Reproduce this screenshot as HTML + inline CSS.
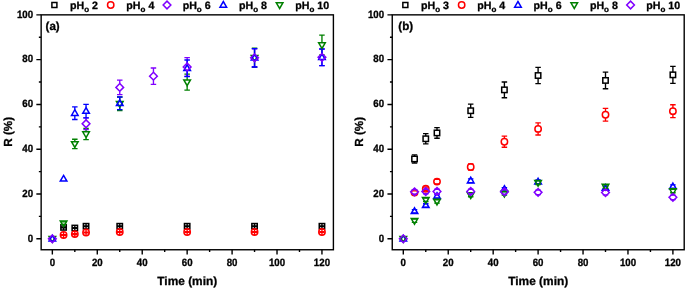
<!DOCTYPE html>
<html><head><meta charset="utf-8"><title>chart</title>
<style>html,body{margin:0;padding:0;background:#fff;}svg{will-change:transform;position:absolute;left:0;top:0;display:block;font-family:"Liberation Sans", sans-serif;}</style>
</head><body>
<svg width="685" height="289" viewBox="0 0 685 289" font-family='"Liberation Sans", sans-serif' fill="#000" text-rendering="geometricPrecision"><style>text{stroke:#000;stroke-width:0.3px;stroke-linejoin:round}</style>
<rect width="685" height="289" fill="#fff"/>
<rect x="41.15" y="14.85" width="292.25" height="234.90" fill="none" stroke="#000" stroke-width="1.4"/>
<path d="M41.15 238.80h-4.8M41.15 216.41h-2.3M41.15 194.01h-4.8M41.15 171.62h-2.3M41.15 149.22h-4.8M41.15 126.83h-2.3M41.15 104.43h-4.8M41.15 82.03h-2.3M41.15 59.64h-4.8M41.15 37.25h-2.3M41.15 14.85h-4.8M52.35 249.75v4.8M74.82 249.75v2.3M97.28 249.75v4.8M119.75 249.75v2.3M142.22 249.75v4.8M164.69 249.75v2.3M187.15 249.75v4.8M209.62 249.75v2.3M232.09 249.75v4.8M254.55 249.75v2.3M277.02 249.75v4.8M299.49 249.75v2.3M321.95 249.75v4.8" stroke="#000" stroke-width="1.4" fill="none"/>
<g font-size="9.7px" font-weight="bold" text-anchor="end">
<text transform="translate(33.05 241.50) scale(1 1.09)">0</text>
<text transform="translate(33.05 196.71) scale(1 1.09)">20</text>
<text transform="translate(33.05 151.92) scale(1 1.09)">40</text>
<text transform="translate(33.05 107.13) scale(1 1.09)">60</text>
<text transform="translate(33.05 62.34) scale(1 1.09)">80</text>
<text transform="translate(33.05 17.55) scale(1 1.09)">100</text>
</g>
<g font-size="9.7px" font-weight="bold" text-anchor="middle">
<text transform="translate(52.35 265.6) scale(1 1.09)">0</text>
<text transform="translate(97.28 265.6) scale(1 1.09)">20</text>
<text transform="translate(142.22 265.6) scale(1 1.09)">40</text>
<text transform="translate(187.15 265.6) scale(1 1.09)">60</text>
<text transform="translate(232.09 265.6) scale(1 1.09)">80</text>
<text transform="translate(277.02 265.6) scale(1 1.09)">100</text>
<text transform="translate(321.95 265.6) scale(1 1.09)">120</text>
</g>
<text x="187.27" y="285.3" font-size="11.9px" font-weight="bold" text-anchor="middle">Time (min)</text>
<text transform="translate(12.05 131.80) rotate(-90)" font-size="11.7px" font-weight="bold" text-anchor="middle">R (%)</text>
<text x="45.55" y="30.2" font-size="11.6px" font-weight="bold">(a)</text>
<rect x="51.90" y="2.50" width="5.00" height="5.00" fill="#fff" stroke="#000" stroke-width="1.5"/>
<text x="70.05" y="8.65" font-size="10.65px" font-weight="bold">pH<tspan font-size="8px" dy="2.85">o</tspan><tspan dy="-2.85"> 2</tspan></text>
<circle cx="110.70" cy="5.00" r="3.2" fill="#fff" stroke="#ff0000" stroke-width="1.5"/>
<text x="126.35" y="8.65" font-size="10.65px" font-weight="bold">pH<tspan font-size="8px" dy="2.85">o</tspan><tspan dy="-2.85"> 4</tspan></text>
<path d="M167.00 1.15L170.85 5.00L167.00 8.85L163.15 5.00Z" fill="#fff" stroke="#8000ff" stroke-width="1.5"/>
<text x="182.65" y="8.65" font-size="10.65px" font-weight="bold">pH<tspan font-size="8px" dy="2.85">o</tspan><tspan dy="-2.85"> 6</tspan></text>
<path d="M223.30 1.50L226.60 7.20L220.00 7.20Z" fill="#fff" stroke="#0000ff" stroke-width="1.5"/>
<text x="238.95" y="8.65" font-size="10.65px" font-weight="bold">pH<tspan font-size="8px" dy="2.85">o</tspan><tspan dy="-2.85"> 8</tspan></text>
<path d="M279.60 8.50L282.90 2.80L276.30 2.80Z" fill="#fff" stroke="#008000" stroke-width="1.5"/>
<text x="295.25" y="8.65" font-size="10.65px" font-weight="bold">pH<tspan font-size="8px" dy="2.85">o</tspan><tspan dy="-2.85"> 10</tspan></text>
<path d="M63.58 224.66V230.06M60.83 227.00H66.33M60.83 227.72H66.33" fill="none" stroke="#000" stroke-width="1.35"/>
<path d="M74.82 225.33V230.73M72.07 227.67H77.57M72.07 228.39H77.57" fill="none" stroke="#000" stroke-width="1.35"/>
<path d="M86.05 223.54V228.94M83.30 225.88H88.80M83.30 226.60H88.80" fill="none" stroke="#000" stroke-width="1.35"/>
<path d="M119.75 223.54V228.94M117.00 225.88H122.50M117.00 226.60H122.50" fill="none" stroke="#000" stroke-width="1.35"/>
<path d="M187.15 223.54V228.94M184.40 225.88H189.90M184.40 226.60H189.90" fill="none" stroke="#000" stroke-width="1.35"/>
<path d="M254.55 223.54V228.94M251.80 225.88H257.30M251.80 226.60H257.30" fill="none" stroke="#000" stroke-width="1.35"/>
<path d="M321.95 223.54V228.94M319.20 225.88H324.70M319.20 226.60H324.70" fill="none" stroke="#000" stroke-width="1.35"/>
<rect x="60.88" y="224.66" width="5.40" height="5.40" fill="none" stroke="#000" stroke-width="1.5"/>
<rect x="72.12" y="225.33" width="5.40" height="5.40" fill="none" stroke="#000" stroke-width="1.5"/>
<rect x="83.35" y="223.54" width="5.40" height="5.40" fill="none" stroke="#000" stroke-width="1.5"/>
<rect x="117.05" y="223.54" width="5.40" height="5.40" fill="none" stroke="#000" stroke-width="1.5"/>
<rect x="184.45" y="223.54" width="5.40" height="5.40" fill="none" stroke="#000" stroke-width="1.5"/>
<rect x="251.85" y="223.54" width="5.40" height="5.40" fill="none" stroke="#000" stroke-width="1.5"/>
<rect x="319.25" y="223.54" width="5.40" height="5.40" fill="none" stroke="#000" stroke-width="1.5"/>
<path d="M63.58 231.79V238.19M60.83 234.63H66.33M60.83 235.35H66.33" fill="none" stroke="#ff0000" stroke-width="1.35"/>
<path d="M74.82 230.89V237.29M72.07 233.73H77.57M72.07 234.45H77.57" fill="none" stroke="#ff0000" stroke-width="1.35"/>
<path d="M86.05 229.32V235.72M83.30 232.16H88.80M83.30 232.88H88.80" fill="none" stroke="#ff0000" stroke-width="1.35"/>
<path d="M119.75 228.87V235.27M117.00 231.71H122.50M117.00 232.43H122.50" fill="none" stroke="#ff0000" stroke-width="1.35"/>
<path d="M187.15 228.87V235.27M184.40 231.71H189.90M184.40 232.43H189.90" fill="none" stroke="#ff0000" stroke-width="1.35"/>
<path d="M254.55 228.87V235.27M251.80 231.71H257.30M251.80 232.43H257.30" fill="none" stroke="#ff0000" stroke-width="1.35"/>
<path d="M321.95 228.87V235.27M319.20 231.71H324.70M319.20 232.43H324.70" fill="none" stroke="#ff0000" stroke-width="1.35"/>
<circle cx="63.58" cy="234.99" r="3.2" fill="none" stroke="#ff0000" stroke-width="1.5"/>
<circle cx="74.82" cy="234.09" r="3.2" fill="none" stroke="#ff0000" stroke-width="1.5"/>
<circle cx="86.05" cy="232.52" r="3.2" fill="none" stroke="#ff0000" stroke-width="1.5"/>
<circle cx="119.75" cy="232.07" r="3.2" fill="none" stroke="#ff0000" stroke-width="1.5"/>
<circle cx="187.15" cy="232.07" r="3.2" fill="none" stroke="#ff0000" stroke-width="1.5"/>
<circle cx="254.55" cy="232.07" r="3.2" fill="none" stroke="#ff0000" stroke-width="1.5"/>
<circle cx="321.95" cy="232.07" r="3.2" fill="none" stroke="#ff0000" stroke-width="1.5"/>
<path d="M60.83 221.80H66.33M60.83 224.40H66.33" fill="none" stroke="#008000" stroke-width="1.35"/>
<path d="M74.82 139.21V141.72M74.82 147.42V148.63M72.07 139.21H77.57M72.07 148.63H77.57" fill="none" stroke="#008000" stroke-width="1.35"/>
<path d="M86.05 128.44V131.85M86.05 137.55V139.66M83.30 128.44H88.80M83.30 139.66H88.80" fill="none" stroke="#008000" stroke-width="1.35"/>
<path d="M119.75 97.04V101.57M119.75 107.27V110.50M117.00 97.04H122.50M117.00 110.50H122.50" fill="none" stroke="#008000" stroke-width="1.35"/>
<path d="M187.15 74.16V79.93M187.15 85.63V90.09M184.40 74.16H189.90M184.40 90.09H189.90" fill="none" stroke="#008000" stroke-width="1.35"/>
<path d="M254.55 48.15V55.59M254.55 61.29V67.43M251.80 48.15H257.30M251.80 67.43H257.30" fill="none" stroke="#008000" stroke-width="1.35"/>
<path d="M321.95 35.14V42.80M321.95 48.50V54.87M319.20 35.14H324.70M319.20 54.87H324.70" fill="none" stroke="#008000" stroke-width="1.35"/>
<path d="M86.05 117.90V119.88M86.05 127.58V129.57M83.30 117.90H88.80M83.30 129.57H88.80" fill="none" stroke="#8000ff" stroke-width="1.35"/>
<path d="M119.75 80.11V83.55M119.75 91.25V94.69M117.00 80.11H122.50M117.00 94.69H122.50" fill="none" stroke="#8000ff" stroke-width="1.35"/>
<path d="M153.45 68.00V72.33M153.45 80.03V84.37M150.70 68.00H156.20M150.70 84.37H156.20" fill="none" stroke="#8000ff" stroke-width="1.35"/>
<path d="M187.15 57.68V63.14M187.15 70.84V76.29M184.40 57.68H189.90M184.40 76.29H189.90" fill="none" stroke="#8000ff" stroke-width="1.35"/>
<path d="M254.55 48.82V53.94M254.55 61.64V66.76M251.80 48.82H257.30M251.80 66.76H257.30" fill="none" stroke="#8000ff" stroke-width="1.35"/>
<path d="M321.95 49.04V53.49M321.95 61.19V65.64M319.20 49.04H324.70M319.20 65.64H324.70" fill="none" stroke="#8000ff" stroke-width="1.35"/>
<path d="M74.82 106.91V109.69M74.82 115.39V119.47M72.07 106.91H77.57M72.07 119.47H77.57" fill="none" stroke="#0000ff" stroke-width="1.35"/>
<path d="M86.05 104.44V107.67M86.05 113.37V117.90M83.30 104.44H88.80M83.30 117.90H88.80" fill="none" stroke="#0000ff" stroke-width="1.35"/>
<path d="M119.75 97.04V99.82M119.75 105.52V109.60M117.00 97.04H122.50M117.00 109.60H122.50" fill="none" stroke="#0000ff" stroke-width="1.35"/>
<path d="M187.15 60.03V64.83M187.15 70.53V76.63M184.40 60.03H189.90M184.40 76.63H189.90" fill="none" stroke="#0000ff" stroke-width="1.35"/>
<path d="M254.55 48.59V54.29M254.55 59.99V66.99M251.80 48.59H257.30M251.80 66.99H257.30" fill="none" stroke="#0000ff" stroke-width="1.35"/>
<path d="M321.95 49.04V53.84M321.95 59.54V65.64M319.20 49.04H324.70M319.20 65.64H324.70" fill="none" stroke="#0000ff" stroke-width="1.35"/>
<path d="M52.35 242.30L55.65 236.60L49.05 236.60Z" fill="none" stroke="#008000" stroke-width="1.5"/>
<path d="M63.58 226.60L66.88 220.90L60.28 220.90Z" fill="none" stroke="#008000" stroke-width="1.5"/>
<path d="M74.82 147.42L78.12 141.72L71.52 141.72Z" fill="none" stroke="#008000" stroke-width="1.5"/>
<path d="M86.05 137.55L89.35 131.85L82.75 131.85Z" fill="none" stroke="#008000" stroke-width="1.5"/>
<path d="M119.75 107.27L123.05 101.57L116.45 101.57Z" fill="none" stroke="#008000" stroke-width="1.5"/>
<path d="M187.15 85.63L190.45 79.93L183.85 79.93Z" fill="none" stroke="#008000" stroke-width="1.5"/>
<path d="M254.55 61.29L257.85 55.59L251.25 55.59Z" fill="none" stroke="#008000" stroke-width="1.5"/>
<path d="M321.95 48.50L325.25 42.80L318.65 42.80Z" fill="none" stroke="#008000" stroke-width="1.5"/>
<path d="M52.35 235.30L55.65 241.00L49.05 241.00Z" fill="none" stroke="#0000ff" stroke-width="1.5"/>
<path d="M63.58 175.41L66.88 181.11L60.28 181.11Z" fill="none" stroke="#0000ff" stroke-width="1.5"/>
<path d="M74.82 109.69L78.12 115.39L71.52 115.39Z" fill="none" stroke="#0000ff" stroke-width="1.5"/>
<path d="M86.05 107.67L89.35 113.37L82.75 113.37Z" fill="none" stroke="#0000ff" stroke-width="1.5"/>
<path d="M119.75 99.82L123.05 105.52L116.45 105.52Z" fill="none" stroke="#0000ff" stroke-width="1.5"/>
<path d="M187.15 64.83L190.45 70.53L183.85 70.53Z" fill="none" stroke="#0000ff" stroke-width="1.5"/>
<path d="M254.55 54.29L257.85 59.99L251.25 59.99Z" fill="none" stroke="#0000ff" stroke-width="1.5"/>
<path d="M321.95 53.84L325.25 59.54L318.65 59.54Z" fill="none" stroke="#0000ff" stroke-width="1.5"/>
<path d="M52.35 234.95L56.20 238.80L52.35 242.65L48.50 238.80Z" fill="none" stroke="#8000ff" stroke-width="1.5"/>
<path d="M86.05 119.88L89.90 123.73L86.05 127.58L82.20 123.73Z" fill="none" stroke="#8000ff" stroke-width="1.5"/>
<path d="M119.75 83.55L123.60 87.40L119.75 91.25L115.90 87.40Z" fill="none" stroke="#8000ff" stroke-width="1.5"/>
<path d="M153.45 72.33L157.30 76.18L153.45 80.03L149.60 76.18Z" fill="none" stroke="#8000ff" stroke-width="1.5"/>
<path d="M187.15 63.14L191.00 66.99L187.15 70.84L183.30 66.99Z" fill="none" stroke="#8000ff" stroke-width="1.5"/>
<path d="M254.55 53.94L258.40 57.79L254.55 61.64L250.70 57.79Z" fill="none" stroke="#8000ff" stroke-width="1.5"/>
<path d="M321.95 53.49L325.80 57.34L321.95 61.19L318.10 57.34Z" fill="none" stroke="#8000ff" stroke-width="1.5"/>
<rect x="392.25" y="14.85" width="291.95" height="234.90" fill="none" stroke="#000" stroke-width="1.4"/>
<path d="M392.25 238.80h-4.8M392.25 216.41h-2.3M392.25 194.01h-4.8M392.25 171.62h-2.3M392.25 149.22h-4.8M392.25 126.83h-2.3M392.25 104.43h-4.8M392.25 82.03h-2.3M392.25 59.64h-4.8M392.25 37.25h-2.3M392.25 14.85h-4.8M403.30 249.75v4.8M425.77 249.75v2.3M448.23 249.75v4.8M470.70 249.75v2.3M493.17 249.75v4.8M515.63 249.75v2.3M538.10 249.75v4.8M560.57 249.75v2.3M583.04 249.75v4.8M605.50 249.75v2.3M627.97 249.75v4.8M650.44 249.75v2.3M672.90 249.75v4.8" stroke="#000" stroke-width="1.4" fill="none"/>
<g font-size="9.7px" font-weight="bold" text-anchor="end">
<text transform="translate(384.15 241.50) scale(1 1.09)">0</text>
<text transform="translate(384.15 196.71) scale(1 1.09)">20</text>
<text transform="translate(384.15 151.92) scale(1 1.09)">40</text>
<text transform="translate(384.15 107.13) scale(1 1.09)">60</text>
<text transform="translate(384.15 62.34) scale(1 1.09)">80</text>
<text transform="translate(384.15 17.55) scale(1 1.09)">100</text>
</g>
<g font-size="9.7px" font-weight="bold" text-anchor="middle">
<text transform="translate(403.30 265.6) scale(1 1.09)">0</text>
<text transform="translate(448.23 265.6) scale(1 1.09)">20</text>
<text transform="translate(493.17 265.6) scale(1 1.09)">40</text>
<text transform="translate(538.10 265.6) scale(1 1.09)">60</text>
<text transform="translate(583.04 265.6) scale(1 1.09)">80</text>
<text transform="translate(627.97 265.6) scale(1 1.09)">100</text>
<text transform="translate(672.90 265.6) scale(1 1.09)">120</text>
</g>
<text x="538.23" y="285.3" font-size="11.9px" font-weight="bold" text-anchor="middle">Time (min)</text>
<text transform="translate(363.15 131.80) rotate(-90)" font-size="11.7px" font-weight="bold" text-anchor="middle">R (%)</text>
<text x="398.35" y="30.2" font-size="11.6px" font-weight="bold">(b)</text>
<rect x="402.85" y="2.50" width="5.00" height="5.00" fill="#fff" stroke="#000" stroke-width="1.5"/>
<text x="421.00" y="8.65" font-size="10.65px" font-weight="bold">pH<tspan font-size="8px" dy="2.85">o</tspan><tspan dy="-2.85"> 3</tspan></text>
<circle cx="461.65" cy="5.00" r="3.2" fill="#fff" stroke="#ff0000" stroke-width="1.5"/>
<text x="477.30" y="8.65" font-size="10.65px" font-weight="bold">pH<tspan font-size="8px" dy="2.85">o</tspan><tspan dy="-2.85"> 4</tspan></text>
<path d="M517.95 1.50L521.25 7.20L514.65 7.20Z" fill="#fff" stroke="#0000ff" stroke-width="1.5"/>
<text x="533.60" y="8.65" font-size="10.65px" font-weight="bold">pH<tspan font-size="8px" dy="2.85">o</tspan><tspan dy="-2.85"> 6</tspan></text>
<path d="M574.25 8.50L577.55 2.80L570.95 2.80Z" fill="#fff" stroke="#008000" stroke-width="1.5"/>
<text x="589.90" y="8.65" font-size="10.65px" font-weight="bold">pH<tspan font-size="8px" dy="2.85">o</tspan><tspan dy="-2.85"> 8</tspan></text>
<path d="M630.55 1.15L634.40 5.00L630.55 8.85L626.70 5.00Z" fill="#fff" stroke="#8000ff" stroke-width="1.5"/>
<text x="646.20" y="8.65" font-size="10.65px" font-weight="bold">pH<tspan font-size="8px" dy="2.85">o</tspan><tspan dy="-2.85"> 10</tspan></text>
<path d="M414.53 154.91V156.25M414.53 161.65V162.99M411.78 154.91H417.28M411.78 162.99H417.28" fill="none" stroke="#000" stroke-width="1.35"/>
<path d="M425.77 133.60V136.06M425.77 141.46V143.92M423.02 133.60H428.52M423.02 143.92H428.52" fill="none" stroke="#000" stroke-width="1.35"/>
<path d="M437.00 127.66V130.23M437.00 135.63V138.20M434.25 127.66H439.75M434.25 138.20H439.75" fill="none" stroke="#000" stroke-width="1.35"/>
<path d="M470.70 104.11V108.02M470.70 113.42V117.34M467.95 104.11H473.45M467.95 117.34H473.45" fill="none" stroke="#000" stroke-width="1.35"/>
<path d="M504.40 82.01V87.16M504.40 92.56V97.72M501.65 82.01H507.15M501.65 97.72H507.15" fill="none" stroke="#000" stroke-width="1.35"/>
<path d="M538.10 67.43V72.81M538.10 78.21V83.58M535.35 67.43H540.85M535.35 83.58H540.85" fill="none" stroke="#000" stroke-width="1.35"/>
<path d="M605.50 72.15V77.74M605.50 83.14V88.74M602.75 72.15H608.25M602.75 88.74H608.25" fill="none" stroke="#000" stroke-width="1.35"/>
<path d="M672.90 66.31V72.14M672.90 77.54V83.36M670.15 66.31H675.65M670.15 83.36H675.65" fill="none" stroke="#000" stroke-width="1.35"/>
<rect x="411.83" y="156.25" width="5.40" height="5.40" fill="none" stroke="#000" stroke-width="1.5"/>
<rect x="423.07" y="136.06" width="5.40" height="5.40" fill="none" stroke="#000" stroke-width="1.5"/>
<rect x="434.30" y="130.23" width="5.40" height="5.40" fill="none" stroke="#000" stroke-width="1.5"/>
<rect x="468.00" y="108.02" width="5.40" height="5.40" fill="none" stroke="#000" stroke-width="1.5"/>
<rect x="501.70" y="87.16" width="5.40" height="5.40" fill="none" stroke="#000" stroke-width="1.5"/>
<rect x="535.40" y="72.81" width="5.40" height="5.40" fill="none" stroke="#000" stroke-width="1.5"/>
<rect x="602.80" y="77.74" width="5.40" height="5.40" fill="none" stroke="#000" stroke-width="1.5"/>
<rect x="670.20" y="72.14" width="5.40" height="5.40" fill="none" stroke="#000" stroke-width="1.5"/>
<path d="M411.78 190.80H417.28M411.78 194.39H417.28" fill="none" stroke="#ff0000" stroke-width="1.35"/>
<path d="M423.02 186.99H428.52M423.02 190.58H428.52" fill="none" stroke="#ff0000" stroke-width="1.35"/>
<path d="M434.25 179.36H439.75M434.25 183.85H439.75" fill="none" stroke="#ff0000" stroke-width="1.35"/>
<path d="M467.95 163.88H473.45M467.95 170.16H473.45" fill="none" stroke="#ff0000" stroke-width="1.35"/>
<path d="M504.40 136.07V138.48M504.40 144.88V147.29M501.65 136.07H507.15M501.65 147.29H507.15" fill="none" stroke="#ff0000" stroke-width="1.35"/>
<path d="M538.10 122.84V125.69M538.10 132.09V134.95M535.35 122.84H540.85M535.35 134.95H540.85" fill="none" stroke="#ff0000" stroke-width="1.35"/>
<path d="M605.50 108.37V111.56M605.50 117.96V121.15M602.75 108.37H608.25M602.75 121.15H608.25" fill="none" stroke="#ff0000" stroke-width="1.35"/>
<path d="M672.90 104.78V107.97M672.90 114.37V117.57M670.15 104.78H675.65M670.15 117.57H675.65" fill="none" stroke="#ff0000" stroke-width="1.35"/>
<circle cx="414.53" cy="192.59" r="3.2" fill="none" stroke="#ff0000" stroke-width="1.5"/>
<circle cx="425.77" cy="188.78" r="3.2" fill="none" stroke="#ff0000" stroke-width="1.5"/>
<circle cx="437.00" cy="181.60" r="3.2" fill="none" stroke="#ff0000" stroke-width="1.5"/>
<circle cx="470.70" cy="167.02" r="3.2" fill="none" stroke="#ff0000" stroke-width="1.5"/>
<circle cx="504.40" cy="141.68" r="3.2" fill="none" stroke="#ff0000" stroke-width="1.5"/>
<circle cx="538.10" cy="128.89" r="3.2" fill="none" stroke="#ff0000" stroke-width="1.5"/>
<circle cx="605.50" cy="114.76" r="3.2" fill="none" stroke="#ff0000" stroke-width="1.5"/>
<circle cx="672.90" cy="111.17" r="3.2" fill="none" stroke="#ff0000" stroke-width="1.5"/>
<path d="M411.78 209.64H417.28M411.78 213.01H417.28" fill="none" stroke="#0000ff" stroke-width="1.35"/>
<path d="M423.02 203.70H428.52M423.02 207.06H428.52" fill="none" stroke="#0000ff" stroke-width="1.35"/>
<path d="M434.25 194.50H439.75M434.25 197.87H439.75" fill="none" stroke="#0000ff" stroke-width="1.35"/>
<path d="M467.95 178.80H473.45M467.95 182.61H473.45" fill="none" stroke="#0000ff" stroke-width="1.35"/>
<path d="M501.65 187.55H507.15M501.65 190.91H507.15" fill="none" stroke="#0000ff" stroke-width="1.35"/>
<path d="M535.35 180.03H540.85M535.35 183.62H540.85" fill="none" stroke="#0000ff" stroke-width="1.35"/>
<path d="M602.75 186.43H608.25M602.75 189.79H608.25" fill="none" stroke="#0000ff" stroke-width="1.35"/>
<path d="M670.15 184.86H675.65M670.15 188.22H675.65" fill="none" stroke="#0000ff" stroke-width="1.35"/>
<path d="M403.30 235.30L406.60 241.00L400.00 241.00Z" fill="none" stroke="#0000ff" stroke-width="1.5"/>
<path d="M414.53 207.82L417.83 213.52L411.23 213.52Z" fill="none" stroke="#0000ff" stroke-width="1.5"/>
<path d="M425.77 201.88L429.07 207.58L422.47 207.58Z" fill="none" stroke="#0000ff" stroke-width="1.5"/>
<path d="M437.00 192.68L440.30 198.38L433.70 198.38Z" fill="none" stroke="#0000ff" stroke-width="1.5"/>
<path d="M470.70 177.21L474.00 182.91L467.40 182.91Z" fill="none" stroke="#0000ff" stroke-width="1.5"/>
<path d="M504.40 185.73L507.70 191.43L501.10 191.43Z" fill="none" stroke="#0000ff" stroke-width="1.5"/>
<path d="M538.10 178.33L541.40 184.03L534.80 184.03Z" fill="none" stroke="#0000ff" stroke-width="1.5"/>
<path d="M605.50 184.61L608.80 190.31L602.20 190.31Z" fill="none" stroke="#0000ff" stroke-width="1.5"/>
<path d="M672.90 183.04L676.20 188.74L669.60 188.74Z" fill="none" stroke="#0000ff" stroke-width="1.5"/>
<path d="M411.78 219.06H417.28M411.78 222.43H417.28" fill="none" stroke="#008000" stroke-width="1.35"/>
<path d="M423.02 198.09H428.52M423.02 201.45H428.52" fill="none" stroke="#008000" stroke-width="1.35"/>
<path d="M434.25 199.77H439.75M434.25 203.14H439.75" fill="none" stroke="#008000" stroke-width="1.35"/>
<path d="M467.95 193.38H473.45M467.95 196.74H473.45" fill="none" stroke="#008000" stroke-width="1.35"/>
<path d="M501.65 191.81H507.15M501.65 195.17H507.15" fill="none" stroke="#008000" stroke-width="1.35"/>
<path d="M535.35 180.93H540.85M535.35 184.52H540.85" fill="none" stroke="#008000" stroke-width="1.35"/>
<path d="M602.75 184.86H608.25M602.75 188.22H608.25" fill="none" stroke="#008000" stroke-width="1.35"/>
<path d="M670.15 189.34H675.65M670.15 192.71H675.65" fill="none" stroke="#008000" stroke-width="1.35"/>
<path d="M403.30 242.30L406.60 236.60L400.00 236.60Z" fill="none" stroke="#008000" stroke-width="1.5"/>
<path d="M414.53 224.24L417.83 218.54L411.23 218.54Z" fill="none" stroke="#008000" stroke-width="1.5"/>
<path d="M425.77 203.27L429.07 197.57L422.47 197.57Z" fill="none" stroke="#008000" stroke-width="1.5"/>
<path d="M437.00 204.95L440.30 199.25L433.70 199.25Z" fill="none" stroke="#008000" stroke-width="1.5"/>
<path d="M470.70 198.56L474.00 192.86L467.40 192.86Z" fill="none" stroke="#008000" stroke-width="1.5"/>
<path d="M504.40 196.99L507.70 191.29L501.10 191.29Z" fill="none" stroke="#008000" stroke-width="1.5"/>
<path d="M538.10 186.23L541.40 180.53L534.80 180.53Z" fill="none" stroke="#008000" stroke-width="1.5"/>
<path d="M605.50 190.04L608.80 184.34L602.20 184.34Z" fill="none" stroke="#008000" stroke-width="1.5"/>
<path d="M672.90 194.52L676.20 188.82L669.60 188.82Z" fill="none" stroke="#008000" stroke-width="1.5"/>
<path d="M411.78 189.57H417.28M411.78 194.05H417.28" fill="none" stroke="#8000ff" stroke-width="1.35"/>
<path d="M423.02 189.23H428.52M423.02 193.72H428.52" fill="none" stroke="#8000ff" stroke-width="1.35"/>
<path d="M434.25 189.23H439.75M434.25 193.72H439.75" fill="none" stroke="#8000ff" stroke-width="1.35"/>
<path d="M467.95 189.23H473.45M467.95 193.72H473.45" fill="none" stroke="#8000ff" stroke-width="1.35"/>
<path d="M501.65 189.57H507.15M501.65 194.05H507.15" fill="none" stroke="#8000ff" stroke-width="1.35"/>
<path d="M535.35 190.13H540.85M535.35 194.61H540.85" fill="none" stroke="#8000ff" stroke-width="1.35"/>
<path d="M602.75 190.35H608.25M602.75 194.84H608.25" fill="none" stroke="#8000ff" stroke-width="1.35"/>
<path d="M670.15 195.06H675.65M670.15 199.55H675.65" fill="none" stroke="#8000ff" stroke-width="1.35"/>
<path d="M403.30 234.95L407.15 238.80L403.30 242.65L399.45 238.80Z" fill="none" stroke="#8000ff" stroke-width="1.5"/>
<path d="M414.53 187.96L418.38 191.81L414.53 195.66L410.68 191.81Z" fill="none" stroke="#8000ff" stroke-width="1.5"/>
<path d="M425.77 187.62L429.62 191.47L425.77 195.32L421.92 191.47Z" fill="none" stroke="#8000ff" stroke-width="1.5"/>
<path d="M437.00 187.62L440.85 191.47L437.00 195.32L433.15 191.47Z" fill="none" stroke="#8000ff" stroke-width="1.5"/>
<path d="M470.70 187.62L474.55 191.47L470.70 195.32L466.85 191.47Z" fill="none" stroke="#8000ff" stroke-width="1.5"/>
<path d="M504.40 187.96L508.25 191.81L504.40 195.66L500.55 191.81Z" fill="none" stroke="#8000ff" stroke-width="1.5"/>
<path d="M538.10 188.52L541.95 192.37L538.10 196.22L534.25 192.37Z" fill="none" stroke="#8000ff" stroke-width="1.5"/>
<path d="M605.50 188.74L609.35 192.59L605.50 196.44L601.65 192.59Z" fill="none" stroke="#8000ff" stroke-width="1.5"/>
<path d="M672.90 193.45L676.75 197.30L672.90 201.15L669.05 197.30Z" fill="none" stroke="#8000ff" stroke-width="1.5"/>
</svg>
</body></html>
